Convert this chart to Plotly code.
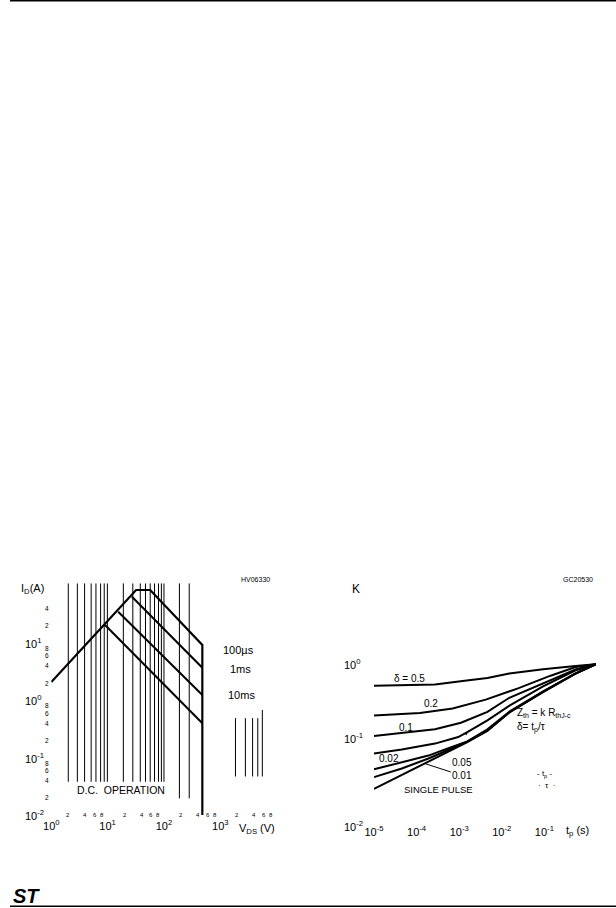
import numpy as np
import plotly.graph_objects as go

W, H = 616, 908
FONT = "Liberation Sans, Arial, sans-serif"

# ---------------- left chart: safe operating area ----------------
env_v = [1, 32, 57, 480, 480]          # 100 us envelope (RDS(on) line, flat top, power line, BVdss)
env_i = [2.1, 84.5, 84.5, 9.3, 0.01]
ms1_v = [27, 480]
ms1_i = [64.5, 3.72]
ms10_v = [15.4, 480]
ms10_i = [35.3, 1.24]
dc_v = [9.0, 480]
dc_i = [20.7, 0.40]

grid_a_v = [2, 2.9, 3.9, 5.1, 6.2, 7.5, 8.7, 9.9]
grid_a_i = [0.038, 110]
grid_b_v = [19, 28, 38, 47, 57, 68, 80, 90, 100]
grid_b_i = [0.038, 110]
grid_c_v = [188, 281]
grid_c_i = [0.0195, 110]
grid_d_v = [1860, 2790, 3750, 4630]
grid_d_i = [0.047, 0.49]
grid_e_v = [5580]
grid_e_i = [0.047, 0.68]

soa_x_major = [1, 10, 100, 1000]
soa_x_major_txt = ["10<sup>0</sup>", "10<sup>1</sup>", "10<sup>2</sup>", "10<sup>3</sup>"]
soa_x_minor = [2, 4, 6, 8, 20, 40, 60, 80, 200, 400, 600, 800, 2000, 4000, 6000, 8000]
soa_y_major = [10, 1, 0.1, 0.01]
soa_y_major_txt = ["10<sup>1</sup>", "10<sup>0</sup>", "10<sup>-1</sup>", "10<sup>-2</sup>"]
soa_y_minor = [2, 4, 6, 8, 0.2, 0.4, 0.6, 0.8, 0.02, 0.04, 0.06, 0.08, 20, 40]

# ---------------- right chart: thermal impedance ----------------
t_a = [1e-5, 2.7e-4, 1.5e-3, 4.6e-3, 1.5e-2, 9.3e-2, 0.54, 1.6]
k_05 = [0.51, 0.53, 0.60, 0.65, 0.75, 0.86, 0.95, 1.0]
t_b = [1e-5, 1.2e-4, 7.0e-4, 4.2e-3, 2.4e-2, 0.14, 0.54, 1.6]
k_02 = [0.20, 0.217, 0.25, 0.33, 0.47, 0.70, 0.92, 1.0]
t_c = [1e-5, 4.5e-5, 2.7e-4, 1.1e-3, 4.6e-3, 1.5e-2, 9.3e-2, 0.54, 1.6]
k_01 = [0.105, 0.115, 0.13, 0.16, 0.225, 0.35, 0.55, 0.85, 1.0]
t_d = [1e-5, 4.5e-5, 2.7e-4, 9.5e-4, 1.55e-3, 4.6e-3, 1.55e-2, 9.3e-2, 0.54, 1.6]
k_005 = [0.061, 0.069, 0.083, 0.102, 0.119, 0.172, 0.276, 0.50, 0.83, 1.0]
t_e = [1e-5, 4.5e-5, 1.9e-4, 5.4e-4, 1.55e-3, 4.6e-3, 1.55e-2, 9.3e-2, 0.54, 1.6]
k_002 = [0.037, 0.0465, 0.057, 0.0715, 0.089, 0.13, 0.229, 0.428, 0.754, 1.0]
k_001 = [0.029, 0.038, 0.052, 0.067, 0.088, 0.124, 0.225, 0.42, 0.75, 1.0]
k_single = [0.020, 0.031, 0.0465, 0.064, 0.087, 0.126, 0.223, 0.419, 0.747, 1.0]

zth_x_major = [1e-5, 1e-4, 1e-3, 1e-2, 1e-1]
zth_x_txt = ["10<sup>-5</sup>", "10<sup>-4</sup>", "10<sup>-3</sup>", "10<sup>-2</sup>", "10<sup>-1</sup>"]
zth_y_major = [1, 0.1]
zth_y_txt = ["10<sup>0</sup>", "10<sup>-1</sup>"]

fig = go.Figure()


def line(x, y, xa="x", ya="y", w=2.0):
    fig.add_trace(go.Scatter(x=x, y=y, mode="lines", xaxis=xa, yaxis=ya,
                             line=dict(color="black", width=w),
                             hoverinfo="skip", showlegend=False))


def vlines(vs, span, w=1.0):
    xs, ys = [], []
    for v in vs:
        xs += [v, v, None]
        ys += [span[0], span[1], None]
    line(xs, ys, w=w)


vlines(grid_a_v, grid_a_i)
vlines(grid_b_v, grid_b_i)
vlines(grid_c_v, grid_c_i)
vlines(grid_d_v, grid_d_i)
vlines(grid_e_v, grid_e_i)
line(env_v, env_i, w=2.2)
line(ms1_v, ms1_i)
line(ms10_v, ms10_i)
line(dc_v, dc_i)

for t, k in [(t_a, k_05), (t_b, k_02), (t_c, k_01), (t_d, k_005),
             (t_e, k_002), (t_e, k_001), (t_e, k_single)]:
    line(t, k, "x2", "y2", w=2.0)

# pixel layout
lx0, lx1 = 42, 271
ly_bot, ly_top = 815, 815 - 4.1 * 57.3
rx0, rx1 = 370, 600
ry_bot, ry_top = 811, 591


def py(p):
    return 1 - p / H


fig.update_layout(
    width=W, height=H, margin=dict(l=0, r=0, t=0, b=0),
    paper_bgcolor="white", plot_bgcolor="white",
    font=dict(family=FONT, size=11, color="black"),
    xaxis=dict(type="log", domain=[lx0 / W, lx1 / W], range=[0, 4], anchor="y",
               showgrid=False, zeroline=False, showline=False, ticks="",
               tickvals=soa_x_major, ticktext=soa_x_major_txt, tickangle=0, ticklabelstandoff=3,
               tickfont=dict(size=11, family=FONT, color="black")),
    yaxis=dict(type="log", domain=[py(ly_bot), py(ly_top)], range=[-2, 2.1], anchor="x",
               showgrid=False, zeroline=False, showline=False, showticklabels=False, ticks=""),
    xaxis2=dict(type="log", domain=[rx0 / W, rx1 / W], range=[-5, -5 + (rx1 - rx0) / 43.3], anchor="y2",
                showgrid=False, zeroline=False, showline=False, ticks="",
                tickvals=zth_x_major, ticktext=zth_x_txt, tickangle=0, ticklabelstandoff=13,
                tickfont=dict(size=11, family=FONT, color="black")),
    yaxis2=dict(type="log", domain=[py(ry_bot), py(ry_top)], range=[-2, 1], anchor="x2",
                showgrid=False, zeroline=False, showline=False, showticklabels=False, ticks=""),
)

anns = []


def ann(text, x, y, xref, yref, size=11, xanchor="center", yanchor="middle", **kw):
    anns.append(dict(text=text, x=x, y=y, xref=xref, yref=yref, showarrow=kw.pop("showarrow", False),
                     font=dict(family=FONT, size=size, color="black"),
                     xanchor=xanchor, yanchor=yanchor, **kw))


L = np.log10
# ----- left chart labels -----
ann("I<sub>D</sub>(A)", 9 / W, py(589), "paper", "paper", size=11, xanchor="left")
for v, s in zip(soa_y_major, soa_y_major_txt):
    ann(s, 13 / W, L(v), "paper", "y", size=11, xanchor="left")
for v in soa_y_minor:
    d = int(round(v / 10 ** np.floor(L(v))))
    ann(str(d), 38 / W, L(v), "paper", "y", size=6.5)
for v in soa_x_minor:
    d = int(round(v / 10 ** np.floor(L(v))))
    ann(str(d), L(v), py(815), "x", "paper", size=6)
ann("V<sub>DS</sub> (V)", L(4470), py(829), "x", "paper", size=11)
ann("HV06330", L(4300), py(579), "x", "paper", size=7)
ann("100µs", L(2100), 0.88, "x", "y", size=11)
ann("1ms", L(2250), 0.55, "x", "y", size=11)
ann("10ms", L(2350), 0.09, "x", "y", size=11)
ann("D.C.  OPERATION", L(17), -1.56, "x", "y", size=10.5)

# ----- right chart labels -----
for v, s in zip(zth_y_major, zth_y_txt):
    ann(s, 337 / W, L(v), "paper", "y2", size=11, xanchor="left")
ann("10<sup>-2</sup>", 337 / W, py(826), "paper", "paper", size=11, xanchor="left")
ann("K", 346 / W, py(589), "paper", "paper", size=12, xanchor="left")
ann("GC20530", L(0.6), py(579), "x2", "paper", size=7)
ann("t<sub>p</sub> (s)", L(0.6), py(831), "x2", "paper", size=11)
ann("δ = 0.5", L(6.8e-5), -0.19, "x2", "y2", size=10)
ann("0.2", L(2.2e-4), -0.53, "x2", "y2", size=10)
ann("0.1", L(5.5e-5), -0.86, "x2", "y2", size=10)
ann("0.02", L(2.3e-5), -1.28, "x2", "y2", size=10)
ann("0.05", L(1.15e-3), -1.34, "x2", "y2", size=10)
ann("0.01", L(1.6e-4), -1.355, "x2", "y2", size=10, showarrow=True, arrowhead=0,
    arrowwidth=1, arrowcolor="black", ax=37, ay=12)
ann("SINGLE PULSE", L(3.3e-4), -1.70, "x2", "y2", size=9.5)
ann("Z<sub>th</sub> = k R<sub>thJ-c</sub>", L(2.0e-2), -0.67, "x2", "y2", size=10, xanchor="left")
ann("δ= t<sub>p</sub>/τ", L(2.0e-2), -0.86, "x2", "y2", size=10, xanchor="left")
ann("- t<sub>p</sub> -", L(0.1), -1.50, "x2", "y2", size=8)
ann("·  τ  ·", L(0.11), -1.65, "x2", "y2", size=8)
ann("", L(1.6e-3), -0.915, "x2", "y2", showarrow=True, arrowhead=0, arrowwidth=1.2,
    arrowcolor="black", ax=-3, ay=5)

# page furniture: ST logo
ann("<b><i>ST</i></b>", 1 / W, py(896), "paper", "paper", size=20, xanchor="left")

fig.update_layout(annotations=anns, shapes=[
    dict(type="rect", xref="paper", yref="paper", x0=0, x1=1, y0=py(1.5), y1=1,
         fillcolor="black", line=dict(width=0)),
    dict(type="rect", xref="paper", yref="paper", x0=0, x1=1, y0=py(907), y1=py(905.5),
         fillcolor="black", line=dict(width=0)),
])

fig.write_html("out.html")
